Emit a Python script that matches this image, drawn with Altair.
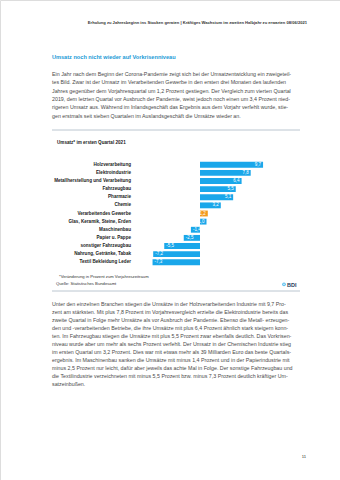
import altair as alt
import pandas as pd

categories = ["Holzverarbeitung", "Elektroindustrie", "Metallherstellung und Verarbeitung",
              "Fahrzeugbau", "Pharmazie", "Chemie", "Verarbeitendes Gewerbe",
              "Glas, Keramik, Steine, Erden", "Maschinenbau", "Papier u. Pappe",
              "sonstiger Fahrzeugbau", "Nahrung, Getränke, Tabak", "Textil Bekleidung Leder"]
values = [9.7, 7.8, 6.4, 5.5, 5.1, 3.2, 1.2, 1.0, -1.4, -2.5, -5.5, -7.2, -7.3]
highlight = "Verarbeitendes Gewerbe"

header = "Erholung zu Jahresbeginn ins Stocken geraten | Kräftiges Wachstum im zweiten Halbjahr zu erwarten  08/06/2021"
section_title = "Umsatz noch nicht wieder auf Vorkrisenniveau"
para1 = [
    "Ein Jahr nach dem Beginn der Corona-Pandemie zeigt sich bei der Umsatzentwicklung ein zweigeteil-",
    "tes Bild. Zwar ist der Umsatz im Verarbeitenden Gewerbe in den ersten drei Monaten des laufenden",
    "Jahres gegenüber dem Vorjahresquartal um 1,2 Prozent gestiegen. Der Vergleich zum vierten Quartal",
    "2019, dem letzten Quartal vor Ausbruch der Pandemie, weist jedoch noch einen um 3,4 Prozent nied-",
    "rigeren Umsatz aus. Während im Inlandsgeschäft das Ergebnis aus dem Vorjahr verfehlt wurde, stie-",
    "gen erstmals seit sieben Quartalen im Auslandsgeschäft die Umsätze wieder an.",
]
chart_title = "Umsatz* im ersten Quartal 2021"
footnote = "*Veränderung in Prozent zum Vorjahreszeitraum"
source = "Quelle: Statistisches Bundesamt"
para2 = [
    "Unter den einzelnen Branchen stiegen die Umsätze in der Holzverarbeitenden Industrie mit 9,7 Pro-",
    "zent am stärksten. Mit plus 7,8 Prozent im Vorjahresvergleich erzielte die Elektroindustrie bereits das",
    "zweite Quartal in Folge mehr Umsätze als vor Ausbruch der Pandemie. Ebenso die Metall- erzeugen-",
    "den und -verarbeitenden Betriebe, die ihre Umsätze mit plus 6,4 Prozent ähnlich stark steigern konn-",
    "ten. Im Fahrzeugbau stiegen die Umsätze mit plus 5,5 Prozent zwar ebenfalls deutlich. Das Vorkrisen-",
    "niveau wurde aber um mehr als sechs Prozent verfehlt. Der Umsatz in der Chemischen Industrie stieg",
    "im ersten Quartal um 3,2 Prozent. Dies war mit etwas mehr als 39 Milliarden Euro das beste Quartals-",
    "ergebnis. Im Maschinenbau sanken die Umsätze mit minus 1,4 Prozent und in der Papierindustrie mit",
    "minus 2,5 Prozent nur leicht, dafür aber jeweils das achte Mal in Folge. Der sonstige Fahrzeugbau und",
    "die Textilindustrie verzeichneten mit minus 5,5 Prozent bzw. minus 7,3 Prozent deutlich kräftiger Um-",
    "satzeinbußen.",
]
page_number = "11"

FONT = "Liberation Sans"
BLUE = "#1aa7ea"
ORANGE = "#f39a1e"
TEXT = "#4a4a4a"

df = pd.DataFrame({"cat": categories, "val": values})
df["label"] = [f"{v:.1f}".replace(".", ",") for v in values]
df["hl"] = [c == highlight for c in categories]

xs = alt.Scale(domain=[-10, 10], range=[135, 265])
ys = alt.Scale(domain=categories, range=[161, 266], paddingInner=0.28, paddingOuter=0.1)

base = alt.Chart(df)
bars = base.mark_bar().encode(
    x=alt.X("val:Q", scale=xs, axis=None),
    x2=alt.datum(0),
    y=alt.Y("cat:N", scale=ys, axis=None, sort=categories),
    color=alt.condition("datum.hl", alt.value(ORANGE), alt.value(BLUE)),
)
pos_lab = base.transform_filter("datum.val >= 0").mark_text(
    align="right", dx=-2, font=FONT, fontSize=4.5, color="white"
).encode(x=alt.X("val:Q", scale=xs), y=alt.Y("cat:N", scale=ys, sort=categories), text="label:N")
neg_lab = base.transform_filter("datum.val < 0").mark_text(
    align="left", dx=2, font=FONT, fontSize=4.5, color="white"
).encode(x=alt.X("val:Q", scale=xs), y=alt.Y("cat:N", scale=ys, sort=categories), text="label:N")
cat_lab = base.mark_text(
    align="right", font=FONT, fontSize=4.6, fontWeight="bold", color="#222222"
).encode(x=alt.value(131), y=alt.Y("cat:N", scale=ys, sort=categories), text="cat:N")


def text_layer(lines, x, y0, step, size, color=TEXT, weight="normal", align="left"):
    d = pd.DataFrame({"t": lines, "i": list(range(len(lines)))})
    d["y"] = y0 + d["i"] * step
    return alt.Chart(d).mark_text(
        align=align, baseline="middle", font=FONT, fontSize=size, color=color, fontWeight=weight
    ).encode(x=alt.value(x), y=alt.Y("y:Q", scale=None), text="t:N")


layers = [
    text_layer([header], 307, 23, 0, 4.1, color="#333333", weight="bold", align="right"),
    text_layer([section_title], 52, 57.3, 0, 5.6, color="#1a9ad6", weight="bold"),
    text_layer(para1, 52, 73.7, 8.4, 5.3),
    alt.Chart(pd.DataFrame({"a": [0]})).mark_rule(color="#a9b8c4", strokeWidth=0.8).encode(
        x=alt.value(52), x2=alt.value(300), y=alt.value(130)),
    text_layer([chart_title], 57, 143.3, 0, 4.6, color="#222222", weight="bold"),
    bars, pos_lab, neg_lab, cat_lab,
    text_layer([footnote], 59, 276.7, 0, 4.2, color="#333333"),
    text_layer([source], 56, 284.3, 0, 4.2, color="#333333"),
    alt.Chart(pd.DataFrame({"a": [0]})).mark_point(filled=True, color=BLUE, size=14).encode(
        x=alt.value(284), y=alt.value(284.3)),
    alt.Chart(pd.DataFrame({"a": [0]})).mark_point(filled=True, color="white", size=3).encode(
        x=alt.value(284), y=alt.value(284.3)),
    text_layer(["BDI"], 287, 284.5, 0, 5.5, color="#1f3b5a", weight="bold"),
    alt.Chart(pd.DataFrame({"a": [0]})).mark_rule(color="#a9b8c4", strokeWidth=0.8).encode(
        x=alt.value(52), x2=alt.value(300), y=alt.value(291)),
    text_layer(para2, 52, 304.3, 8.0, 5.3),
    text_layer([page_number], 306, 457, 0, 4.2, color="#333333", align="right"),
]

chart = alt.layer(*layers).properties(
    width=340, height=480, padding=0, autosize=alt.AutoSizeParams(type="none")
).configure_view(stroke=None).configure(background="white")

chart.save("out.html", embed_options={"renderer": "svg", "actions": False})
